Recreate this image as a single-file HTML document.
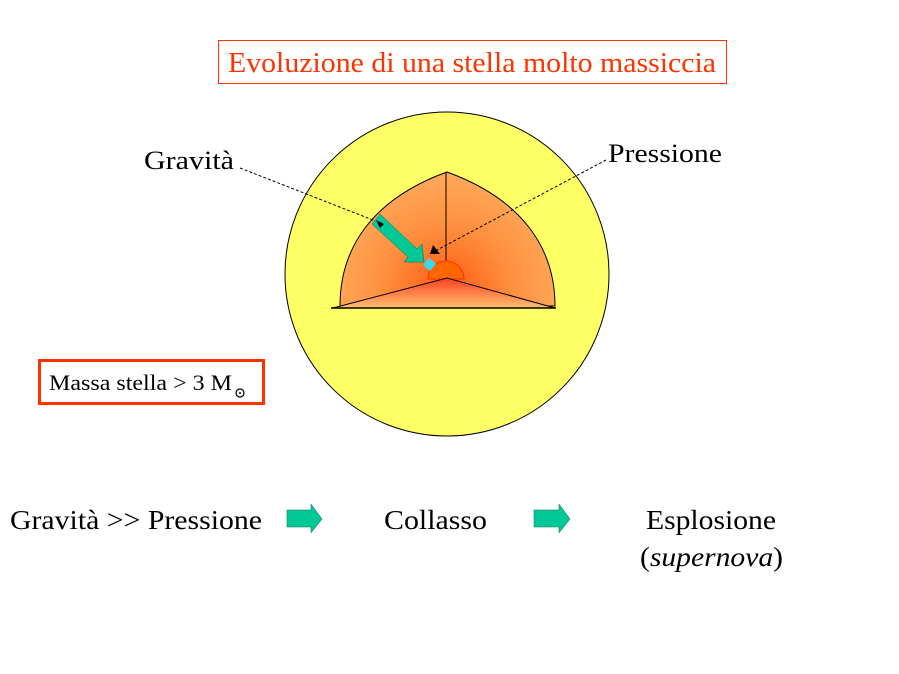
<!DOCTYPE html>
<html><head><meta charset="utf-8"><style>
body{margin:0;width:899px;height:674px;background:#fff;overflow:hidden;font-family:"Liberation Serif",serif}
</style></head><body>
<svg width="899" height="674" xmlns="http://www.w3.org/2000/svg" style="position:absolute;left:0;top:0" font-family="Liberation Serif">
<defs>
<radialGradient id="g" cx="447" cy="290" r="130" gradientUnits="userSpaceOnUse">
<stop offset="0" stop-color="#ff5a10"/><stop offset="0.5" stop-color="#ff9040"/><stop offset="1" stop-color="#ffb060"/></radialGradient>
<linearGradient id="b" x1="0" y1="278" x2="0" y2="308" gradientUnits="userSpaceOnUse">
<stop offset="0" stop-color="#ff4020"/><stop offset="1" stop-color="#ffc070"/></linearGradient>
</defs>
<rect x="218.5" y="40.5" width="508" height="43" fill="#fff" stroke="#ff3300" stroke-width="1"/>
<text x="228" y="72" font-size="28" fill="#ff3300" textLength="488" lengthAdjust="spacingAndGlyphs">Evoluzione di una stella molto massiccia</text>
<circle cx="447" cy="274" r="162" fill="#ffff66" stroke="#000" stroke-width="1"/>
<path d="M340 306 C340 250 370 200 447 172 C524 200 555 250 555 306 Z" fill="url(#g)" stroke="#000" stroke-width="1"/>
<line x1="446" y1="172" x2="446" y2="262" stroke="#000" stroke-width="1"/>
<path d="M428 279 A18 18 0 0 1 464 279 Z" fill="#ff6600" stroke="#ff3300"/>
<path d="M333 308 L447 278 L555 308 Z" fill="url(#b)" stroke="#000" stroke-width="1"/>
<line x1="331" y1="308" x2="556" y2="308" stroke="#000" stroke-width="1.5"/>
<line x1="240" y1="168" x2="378" y2="222" stroke="#000" stroke-dasharray="3,2"/>
<line x1="606" y1="160" x2="437" y2="250" stroke="#000" stroke-dasharray="3,2"/>
<polygon points="433,245 440,254 430,254" fill="#000"/>
<polygon points="380,214 372,224 408,257 404,262 424,262 422,244 417,249" fill="#00c896" stroke="#007050" stroke-width="0.5"/>
<polygon points="376,220 384,224 380,228" fill="#000"/>
<polygon points="429,258 436,264 430,271 423,265" fill="#33ddee"/>
<text x="144" y="169" font-size="26" textLength="90" lengthAdjust="spacingAndGlyphs">Gravità</text>
<text x="608" y="162" font-size="26" textLength="114" lengthAdjust="spacingAndGlyphs">Pressione</text>
<rect x="39.5" y="360.5" width="224" height="43" fill="#fff" stroke="#ff3300" stroke-width="3"/>
<text x="49" y="390" font-size="22" textLength="183" lengthAdjust="spacingAndGlyphs">Massa stella &gt; 3 M</text>
<circle cx="240" cy="393" r="4" fill="none" stroke="#000" stroke-width="1.2"/>
<circle cx="240" cy="393" r="1" fill="#000"/>
<text x="10" y="529" font-size="27" textLength="252" lengthAdjust="spacingAndGlyphs">Gravità &gt;&gt; Pressione</text>
<polygon points="287,510 311,510 311,504 322,519 311,533 311,527 287,527" fill="#00c896" stroke="#007050" stroke-width="0.5"/>
<text x="384" y="529" font-size="27" textLength="103" lengthAdjust="spacingAndGlyphs">Collasso</text>
<polygon points="534,510 559,510 559,504 570,519 559,533 559,527 534,527" fill="#00c896" stroke="#007050" stroke-width="0.5"/>
<text x="646" y="529" font-size="27" textLength="130" lengthAdjust="spacingAndGlyphs">Esplosione</text>
<text x="640" y="566" font-size="27" textLength="143" lengthAdjust="spacingAndGlyphs">(<tspan font-style="italic">supernova</tspan>)</text>
</svg>
</body></html>
